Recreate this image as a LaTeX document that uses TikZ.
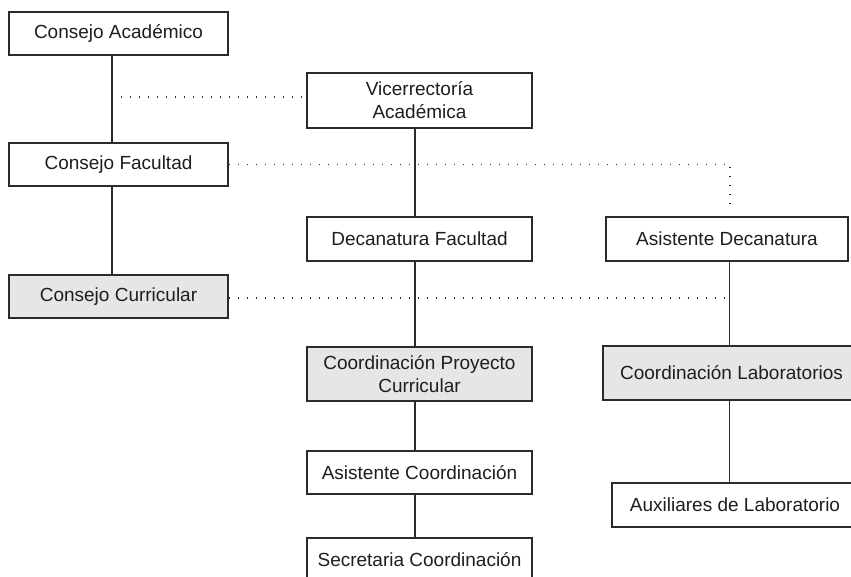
\documentclass[tikz,border=0pt]{standalone}
\usepackage{fontspec}
\setmainfont{Liberation Sans}
\begin{document}
\begin{tikzpicture}[x=1pt,y=-1pt,
  box/.style={draw=linec, line width=1.2pt, rectangle, inner sep=0pt, align=center,
    text=textc, font=\fontsize{19}{23}\selectfont},
  grey/.style={fill=fillc},
  solidline/.style={draw=linec, line width=1.2pt},
  dotline/.style={draw=linec, line width=1.3pt, dash pattern=on 1.3pt off 7.7pt}]
\definecolor{linec}{HTML}{2B2B2B}
\definecolor{fillc}{HTML}{E6E6E6}
\definecolor{textc}{HTML}{1E1E1E}
\useasboundingbox (0,0) rectangle (851,577);
\clip (0,0) rectangle (851,577);
\fill[white] (0,0) rectangle (851,577);

\node[box, minimum width=219pt, minimum height=43pt] (ca) at (118.5,33.5) {Consejo Académico};
\node[box, minimum width=225pt, minimum height=55pt] (vr) at (419.5,100.5) {Vicerrectoría\\Académica};
\node[box, minimum width=219pt, minimum height=43pt] (cf) at (118.5,164.5) {Consejo Facultad};
\node[box, minimum width=225pt, minimum height=44pt] (df) at (419.5,239) {Decanatura Facultad};
\node[box, minimum width=242pt, minimum height=44pt] (ad) at (727,239) {Asistente Decanatura};
\node[box, grey, minimum width=219pt, minimum height=43pt] (cc) at (118.5,296.5) {Consejo Curricular};
\node[box, grey, minimum width=225pt, minimum height=54pt] (cp) at (419.5,374) {Coordinación Proyecto\\Curricular};
\node[box, grey, minimum width=257pt, minimum height=54pt] (cl) at (731.5,373) {Coordinación Laboratorios};
\node[box, minimum width=225pt, minimum height=43pt] (ac) at (419.5,472.5) {Asistente Coordinación};
\node[box, minimum width=246pt, minimum height=44pt] (al) at (735,505) {Auxiliares de Laboratorio};
\node[box, minimum width=225pt, minimum height=44pt] (sc) at (419.5,560) {Secretaria Coordinación};

% solid hierarchy lines
\coordinate (xl) at (112,0);
\coordinate (xm) at (415,0);
\coordinate (xr) at (729.5,0);
\draw[solidline] (ca.south -| xl) -- (cf.north -| xl);
\draw[solidline] (cf.south -| xl) -- (cc.north -| xl);
\draw[solidline] (vr.south -| xm) -- (df.north -| xm);
\draw[solidline] (df.south -| xm) -- (cp.north -| xm);
\draw[solidline] (cp.south -| xm) -- (ac.north -| xm);
\draw[solidline] (ac.south -| xm) -- (sc.north -| xm);
\draw[solidline] (ad.south -| xr) -- (cl.north -| xr);
\draw[solidline] (cl.south -| xr) -- (al.north -| xr);

% dotted relations
\coordinate (d1) at (112,97);
\coordinate (d2) at (730,164.5);
\coordinate (d2end) at (730,209);
\coordinate (d3) at (729.5,298);
\draw[dotline] (d1) -- (d1 -| vr.west);
\draw[dotline] (cf.east) -- (d2) -- (d2end);
\draw[dotline] (cc.east |- d3) -- (d3);
\end{tikzpicture}
\end{document}
